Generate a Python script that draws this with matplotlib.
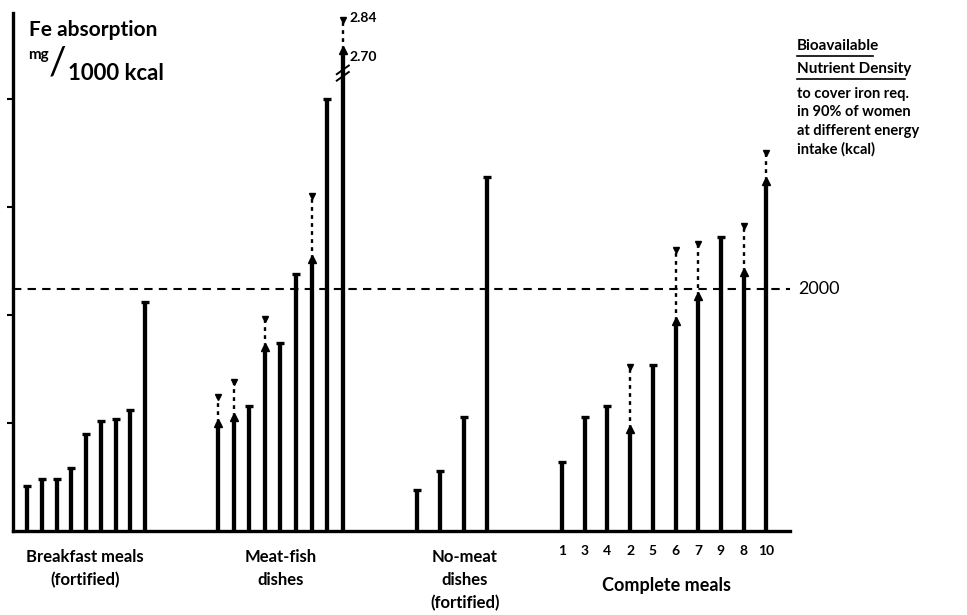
import matplotlib.pyplot as plt

# Fe absorption, mg / 1000 kcal (solid bar top and dotted extension top)
breakfast = [0.21, 0.24, 0.24, 0.29, 0.45, 0.51, 0.52, 0.56, 1.06]

meat_fish = [0.50, 0.53, 0.58, 0.85, 0.87, 1.19, 1.26, 2.00, 2.70]
meat_fish_ext = [0.62, 0.69, None, 0.98, None, None, 1.55, None, 2.84]

no_meat = [0.19, 0.28, 0.53, 1.64]

complete_ids = ["1", "3", "4", "2", "5", "6", "7", "9", "8", "10"]
complete = [0.32, 0.53, 0.58, 0.47, 0.77, 0.97, 1.09, 1.36, 1.20, 1.62]
complete_ext = [None, None, None, 0.76, None, 1.30, 1.33, None, 1.41, 1.75]

bnd_2000 = 1.12          # bioavailable nutrient density at 2000 kcal
break_at = 2.12          # axis break on the tallest bar
break_shift = 0.475      # how much the part above the break is pulled down

W, H = 967, 615
FONT = "Lato"


def shown(v):
    return v - break_shift if v > 2.2 else v


def px(x, y):
    # figure pixel coords (origin top-left) -> figure fraction
    return x / W, 1 - y / H


def draw_group(ax, x0, step, vals, ext=None):
    xs = [x0 + i * step for i in range(len(vals))]
    for i, (x, v) in enumerate(zip(xs, vals)):
        top = shown(v)
        ax.plot([x, x], [0, top], color="black", lw=3.1, solid_capstyle="butt")
        e = ext[i] if ext else None
        if e is None:
            ax.plot([x - 4, x + 4], [top, top], color="black", lw=2.4,
                    solid_capstyle="butt")
        else:
            etop = shown(e)
            ax.plot(x, top, marker="^", color="black", ms=6)
            ax.plot([x, x], [top, etop], color="black", lw=1.7,
                    linestyle=(0, (1.6, 1.8)))
            ax.plot(x, etop, marker="v", color="black", ms=5)
    return xs


fig = plt.figure(figsize=(W / 100, H / 100), dpi=100)
left, right, base_y = 13, 790, 531
ymax = 2.40
ax = fig.add_axes([left / W, 1 - base_y / H, (right - left) / W,
                   ymax * 216 / H])
ax.set_xlim(left, right)
ax.set_ylim(0, ymax)

draw_group(ax, 27, 14.75, breakfast)
mf_x = draw_group(ax, 218, 15.6, meat_fish, meat_fish_ext)
draw_group(ax, 417, 23.3, no_meat)
cm_x = draw_group(ax, 562, 22.7, complete, complete_ext)

# break mark on the tallest meat-fish bar
xb = mf_x[-1]
for dy in (-0.015, 0.015):
    ax.plot([xb - 6, xb + 6], [break_at + dy - 0.02, break_at + dy + 0.02],
            color="black", lw=1.4)

ax.axhline(bnd_2000, color="black", lw=1.5, linestyle=(0, (4, 3)))

for s in ("top", "right"):
    ax.spines[s].set_visible(False)
ax.spines["left"].set_linewidth(2.4)
ax.spines["bottom"].set_linewidth(2.4)
ax.set_xticks([])
ax.set_yticks([0.5, 1.0, 1.5, 2.0])
ax.set_yticklabels([])
ax.tick_params(axis="y", direction="out", length=4, width=1.5)

# value labels for the broken bar
ax.text(xb + 7, shown(meat_fish_ext[-1]) + 0.01, "2.84", fontsize=10,
        family=FONT, weight="bold", va="center")
ax.text(xb + 7, shown(meat_fish[-1]) - 0.03, "2.70", fontsize=10,
        family=FONT, weight="bold", va="center")

# y axis title
fig.text(*px(29, 30), "Fe absorption", fontsize=15, family=FONT,
         weight="bold", va="center", ha="left")
fig.text(*px(28, 55), "mg", fontsize=11, family=FONT, weight="bold",
         va="center", ha="left")
fig.text(*px(58, 64), "/", fontsize=28, family=FONT, va="center", ha="center")
fig.text(*px(68, 74), "1000 kcal", fontsize=16, family=FONT, weight="bold",
         va="center", ha="left")

# right-hand note
fig.text(*px(797, 46), "Bioavailable", fontsize=11, family=FONT,
         weight="bold", va="center", ha="left")
fig.text(*px(797, 69), "Nutrient Density", fontsize=11, family=FONT,
         weight="bold", va="center", ha="left")
for yy, x1 in ((56, 873), (79, 905)):
    fig.add_artist(plt.Line2D([797 / W, x1 / W], [1 - yy / H, 1 - yy / H],
                              color="black", lw=1.2))
note = ["to cover iron req.", "in 90% of women", "at different energy",
        "intake (kcal)"]
for i, line in enumerate(note):
    fig.text(*px(797, 94 + i * 18.5), line, fontsize=10.5, family=FONT,
             weight="bold", va="center", ha="left")

fig.text(*px(798, 289), "2000", fontsize=13, family=FONT, va="center",
         ha="left")

# group labels
labels = [(85, ["Breakfast meals", "(fortified)"]),
          (281, ["Meat-fish", "dishes"]),
          (465, ["No-meat", "dishes", "(fortified)"])]
for cx, lines in labels:
    for i, line in enumerate(lines):
        fig.text(*px(cx, 557 + i * 23), line, fontsize=12, family=FONT,
                 weight="bold", va="center", ha="center")

for x, lab in zip(cm_x, complete_ids):
    fig.text(*px(x, 551), lab, fontsize=10, family=FONT, weight="bold",
             va="center", ha="center")
fig.text(*px(667, 586), "Complete meals", fontsize=13, family=FONT,
         weight="bold", va="center", ha="center")

fig.savefig("out.png", dpi=100)
